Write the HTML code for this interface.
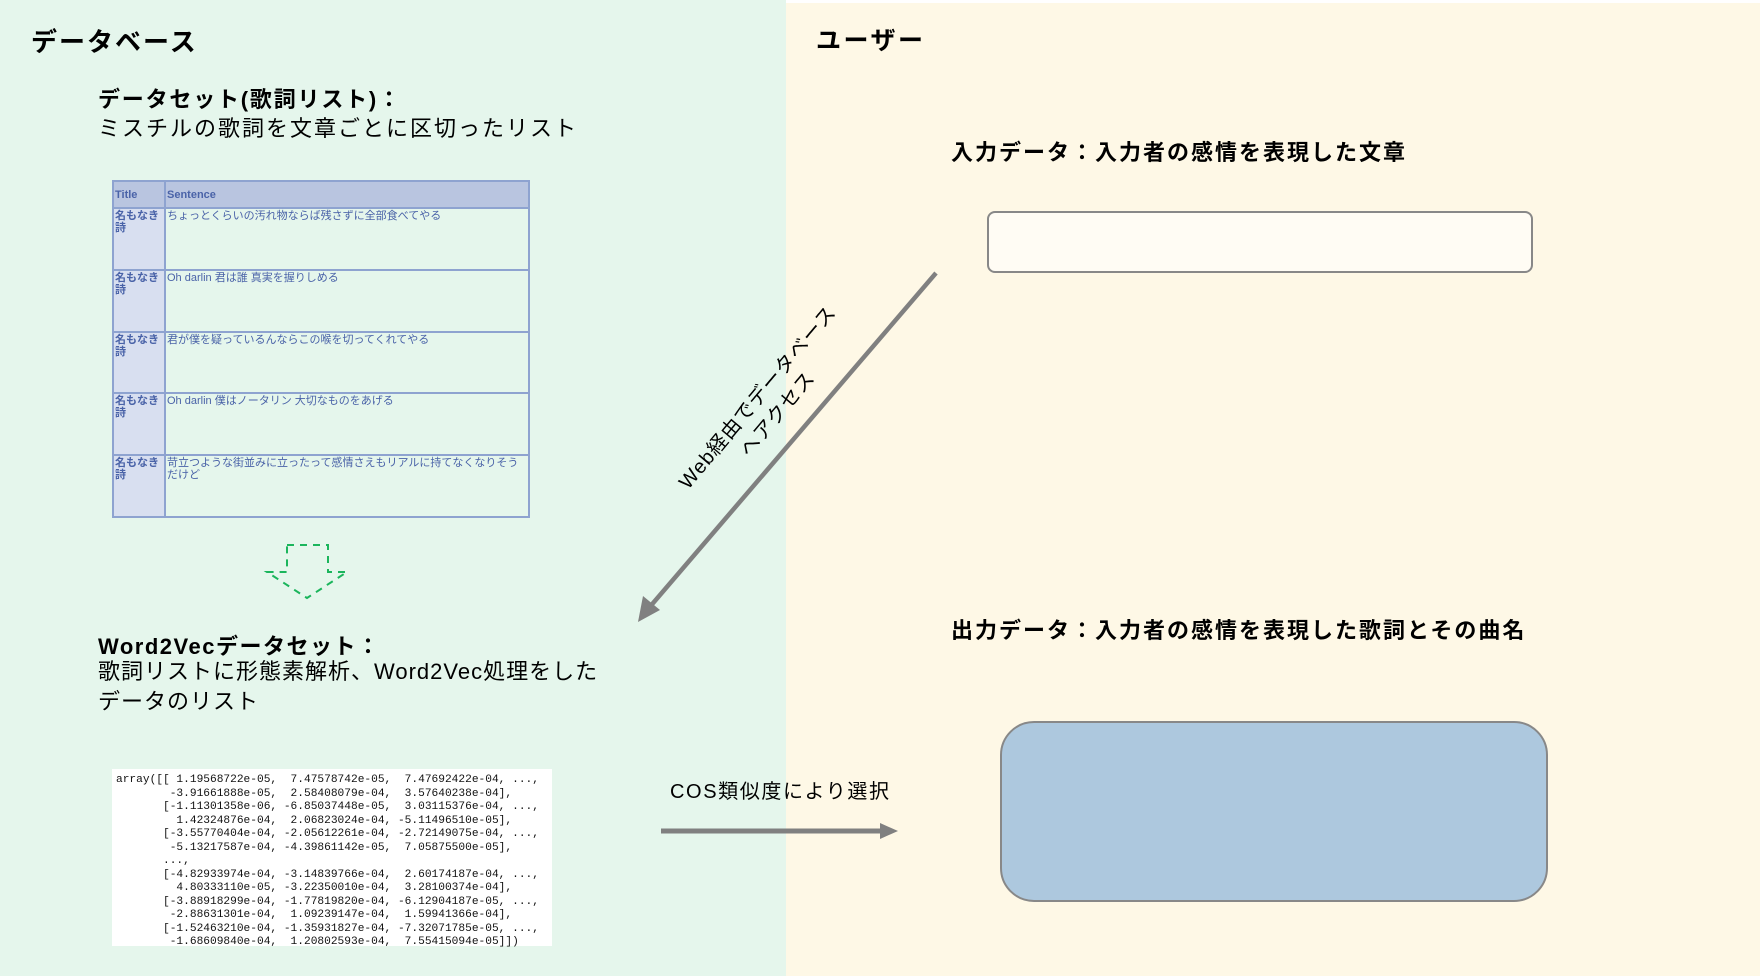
<!DOCTYPE html>
<html><head><meta charset="utf-8"><style>
*{margin:0;padding:0;box-sizing:border-box}
body{width:1760px;height:976px;position:relative;overflow:hidden;font-family:"Liberation Sans","Noto Sans CJK JP",sans-serif;color:#000;background:#fff}
.a{position:absolute;white-space:nowrap}
.b{font-weight:bold}
#tbl{position:absolute;left:112px;top:180px;width:418px;height:338px;border:2px solid #7f97c9;border-collapse:collapse;font-size:11px;color:#4a63a8}
#tbl td{border:2px solid #8ea3d0;vertical-align:top;padding:1px 1px;line-height:12px}
#tbl td.t{background:#d8dff0;width:52px;font-weight:bold}
#tbl tr.h td{background:#b9c5e0;height:27px;font-weight:bold;vertical-align:middle}
pre{position:absolute;left:112px;top:769px;width:440px;height:177px;background:#fff;font-family:"Liberation Mono",monospace;font-size:11.2px;line-height:13.5px;padding:5px 0 0 4px;color:#111}
</style></head><body>
<div style="position:absolute;left:0;top:0;width:786px;height:976px;background:#e5f6ec"></div>
<div style="position:absolute;left:786px;top:3px;width:974px;height:973px;background:#fef8e6"></div>

<div class="a b" style="left:31px;top:22px;font-size:26px;letter-spacing:2px">データベース</div>
<div class="a b" style="left:816px;top:21px;font-size:25px;letter-spacing:2.5px">ユーザー</div>

<div class="a b" style="left:98px;top:82px;font-size:22px;letter-spacing:1.8px">データセット(歌詞リスト)：</div>
<div class="a" style="left:98px;top:111px;font-size:22px;letter-spacing:2px">ミスチルの歌詞を文章ごとに区切ったリスト</div>

<table id="tbl">
<tr class="h"><td class="t" style="background:#b9c5e0">Title</td><td>Sentence</td></tr>
<tr><td class="t">名もなき詩</td><td>ちょっとくらいの汚れ物ならば残さずに全部食べてやる</td></tr>
<tr><td class="t">名もなき詩</td><td>Oh darlin 君は誰 真実を握りしめる</td></tr>
<tr><td class="t">名もなき詩</td><td>君が僕を疑っているんならこの喉を切ってくれてやる</td></tr>
<tr><td class="t">名もなき詩</td><td>Oh darlin 僕はノータリン 大切なものをあげる</td></tr>
<tr><td class="t">名もなき詩</td><td>苛立つような街並みに立ったって感情さえもリアルに持てなくなりそうだけど</td></tr>
</table>

<svg style="position:absolute;left:0;top:0" width="1760" height="976">
<path d="M287 545 H328 V572 H347 L307 598 L267 572 H287 Z" fill="none" stroke="#1bb55c" stroke-width="2" stroke-dasharray="7 6"/>
<line x1="936" y1="273" x2="648" y2="609" stroke="#808080" stroke-width="4.5"/>
<polygon points="638,622 643,596 660,610" fill="#808080"/>
<line x1="661" y1="831" x2="882" y2="831" stroke="#808080" stroke-width="5"/>
<polygon points="898,831 880,823 880,839" fill="#808080"/>
</svg>

<div class="a" style="left:768px;top:406px;font-size:20px;line-height:26px;text-align:center;letter-spacing:1px;transform:translate(-50%,-50%) rotate(-50deg)">Web経由でデータベース<br>へアクセス</div>

<div class="a b" style="left:98px;top:629px;font-size:22px;letter-spacing:1.5px">Word2Vecデータセット：</div>
<div class="a" style="left:98px;top:657px;font-size:22px;line-height:30px;letter-spacing:1px">歌詞リストに形態素解析、Word2Vec処理をした<br>データのリスト</div>

<pre>array([[ 1.19568722e-05,  7.47578742e-05,  7.47692422e-04, ...,
        -3.91661888e-05,  2.58408079e-04,  3.57640238e-04],
       [-1.11301358e-06, -6.85037448e-05,  3.03115376e-04, ...,
         1.42324876e-04,  2.06823024e-04, -5.11496510e-05],
       [-3.55770404e-04, -2.05612261e-04, -2.72149075e-04, ...,
        -5.13217587e-04, -4.39861142e-05,  7.05875500e-05],
       ...,
       [-4.82933974e-04, -3.14839766e-04,  2.60174187e-04, ...,
         4.80333110e-05, -3.22350010e-04,  3.28100374e-04],
       [-3.88918299e-04, -1.77819820e-04, -6.12904187e-05, ...,
        -2.88631301e-04,  1.09239147e-04,  1.59941366e-04],
       [-1.52463210e-04, -1.35931827e-04, -7.32071785e-05, ...,
        -1.68609840e-04,  1.20802593e-04,  7.55415094e-05]])</pre>

<div class="a" style="left:670px;top:775px;font-size:20px;letter-spacing:1.6px">COS類似度により選択</div>

<div class="a b" style="left:951px;top:135px;font-size:22px;letter-spacing:2px">入力データ：入力者の感情を表現した文章</div>
<div style="position:absolute;left:987px;top:211px;width:546px;height:62px;border:2px solid #888;border-radius:8px;background:#fffcf4"></div>

<div class="a b" style="left:951px;top:613px;font-size:22px;letter-spacing:2px">出力データ：入力者の感情を表現した歌詞とその曲名</div>
<div style="position:absolute;left:1000px;top:721px;width:548px;height:181px;border:2px solid #888;border-radius:34px;background:#adc8de"></div>
</body></html>
